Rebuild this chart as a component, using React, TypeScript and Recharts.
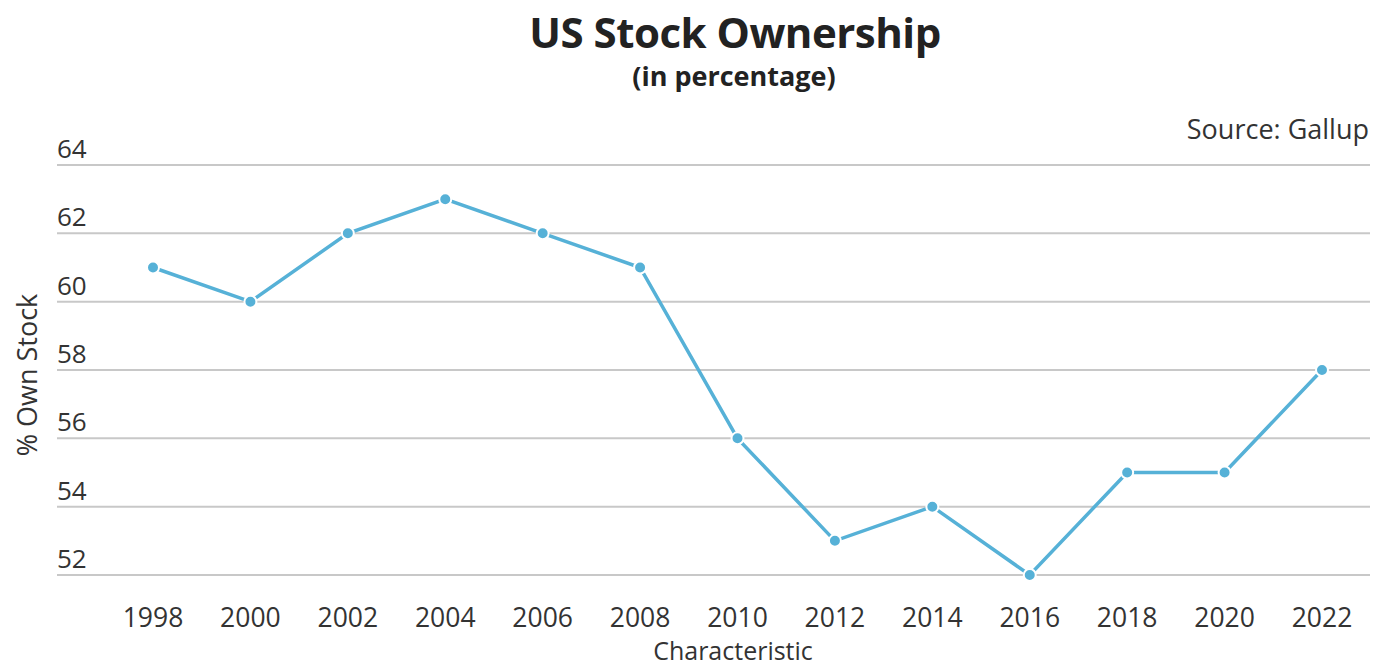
import { LineChart, Line, XAxis, YAxis, CartesianGrid } from 'recharts';

// Data
const years = ['1998', '2000', '2002', '2004', '2006', '2008', '2010', '2012', '2014', '2016', '2018', '2020', '2022'];
const ownStock = [61, 60, 62, 63, 62, 61, 56, 53, 54, 52, 55, 55, 58];
const yTicks = [52, 54, 56, 58, 60, 62, 64];

const FONT = '"Open Sans", sans-serif';
const LINE_COLOR = '#56b1d7';

const chartData = years.map((year, i) => ({ year, value: ownStock[i] }));

const YTick = ({ y, payload }: any) => (
  <text x={57} y={y - 7} textAnchor="start" fontFamily={FONT} fontSize={26} fill="#333">
    {payload.value}
  </text>
);

const XTick = ({ x, y, payload }: any) => (
  <text x={x} y={y + 44} textAnchor="middle" fontFamily={FONT} fontSize={26.5} fill="#333">
    {payload.value}
  </text>
);

export default function App() {
  return (
    <div style={{ position: 'absolute', left: 0, top: 0, width: 1383, height: 666, background: '#fff', fontFamily: FONT, overflow: 'hidden' }}>
      <div style={{ position: 'absolute', left: 0, width: 1470, top: 3, textAlign: 'center', fontSize: 42, lineHeight: 'normal', fontWeight: 700, color: '#222', letterSpacing: -0.5 }}>
        US Stock Ownership
      </div>
      <div style={{ position: 'absolute', left: 0, width: 1468, top: 57, textAlign: 'center', fontSize: 27, fontWeight: 700, color: '#222' }}>
        (in percentage)
      </div>
      <div style={{ position: 'absolute', right: 14, top: 110, fontSize: 27, color: '#333' }}>Source: Gallup</div>
      <div style={{ position: 'absolute', left: 0, width: 1466, top: 638, textAlign: 'center', fontSize: 25, lineHeight: '24px', color: '#333' }}>
        Characteristic
      </div>
      <div
        style={{
          position: 'absolute',
          left: 26,
          top: 375,
          transform: 'translate(-50%, -50%) rotate(-90deg)',
          fontSize: 27,
          color: '#333',
          whiteSpace: 'nowrap',
        }}
      >
        % Own Stock
      </div>
      <LineChart width={1383} height={666} data={chartData} margin={{ top: 165, right: 13, bottom: 61, left: 0 }}>
        <CartesianGrid vertical={false} stroke="#c8c8c8" strokeWidth={2} />
        <XAxis
          dataKey="year"
          axisLine={false}
          tickLine={false}
          padding={{ left: 96, right: 48 }}
          tick={<XTick />}
          interval={0}
        />
        <YAxis
          width={57}
          domain={[52, 64]}
          ticks={yTicks}
          axisLine={false}
          tickLine={false}
          tick={<YTick />}
          interval={0}
        />
        <Line
          type="linear"
          dataKey="value"
          stroke={LINE_COLOR}
          strokeWidth={3.5}
          dot={{ r: 6, fill: LINE_COLOR, stroke: '#fff', strokeWidth: 2 }}
          isAnimationActive={false}
        />
      </LineChart>
    </div>
  );
}
